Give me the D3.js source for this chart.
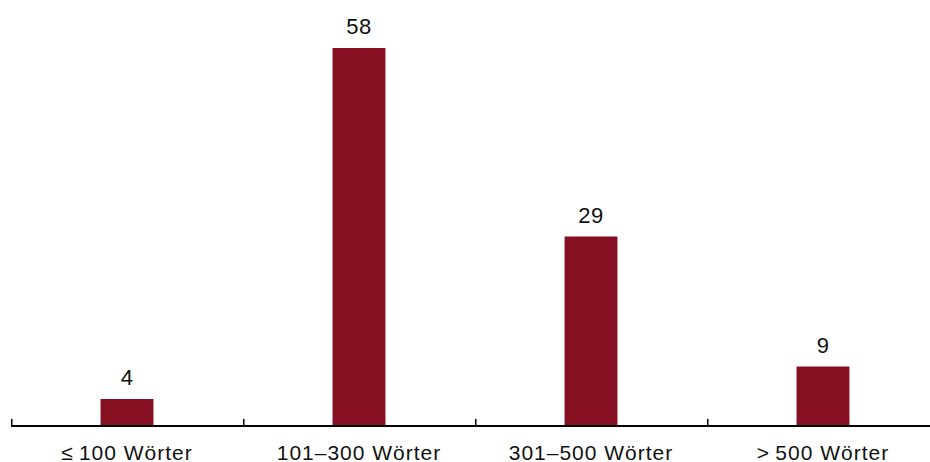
<!DOCTYPE html>
<html lang="de">
<head>
<meta charset="utf-8">
<script src="https://cdn.jsdelivr.net/npm/d3@7"></script>
<style>
  html, body { margin: 0; padding: 0; background: #fff; }
  svg { display: block; }
  text { font-family: "Liberation Sans", Arial, Helvetica, sans-serif; fill: #111; }
</style>
</head>
<body>
<svg id="chart" width="930" height="462"></svg>
<script>
// Anteil der Texte nach Länge (in Prozent)
const categories = ["\u2264\u2009100 Wörter", "101–300 Wörter", "301–500 Wörter", ">\u2009500 Wörter"];
const values = [4, 58, 29, 9];

const width = 930, height = 462;
const baseline = 425;
const barColor = "#860f22";

const svg = d3.select("#chart");

const x = d3.scaleBand()
  .domain(categories)
  .range([11, 939])
  .padding(0);

const y = d3.scaleLinear()
  .domain([0, d3.max(values)])
  .range([baseline, 48]);

const barW = x.bandwidth() * 0.228;

// Bars
svg.append("g")
  .selectAll("rect")
  .data(values)
  .join("rect")
  .attr("x", (d, i) => x(categories[i]) + x.bandwidth() / 2 - barW / 2)
  .attr("y", d => y(d))
  .attr("width", barW)
  .attr("height", d => baseline - y(d))
  .attr("fill", barColor);

// Value labels
svg.append("g")
  .selectAll("text")
  .data(values)
  .join("text")
  .attr("x", (d, i) => x(categories[i]) + x.bandwidth() / 2)
  .attr("y", d => y(d) - 14)
  .attr("text-anchor", "middle")
  .attr("font-size", 22)
  .attr("letter-spacing", 0.5)
  .text(d => d);

// Axis line and band separators
const axis = svg.append("g");
axis.append("line")
  .attr("x1", x.range()[0])
  .attr("x2", width)
  .attr("y1", baseline + 1)
  .attr("y2", baseline + 1)
  .attr("stroke", "#000")
  .attr("stroke-width", 2);

axis.selectAll("line.tick")
  .data(categories)
  .join("line")
  .attr("class", "tick")
  .attr("x1", d => x(d) + 0.75)
  .attr("x2", d => x(d) + 0.75)
  .attr("y1", baseline - 6)
  .attr("y2", baseline + 1)
  .attr("stroke", "#000")
  .attr("stroke-width", 1.5);

axis.selectAll("text.cat")
  .data(categories)
  .join("text")
  .attr("class", "cat")
  .attr("x", d => x(d) + x.bandwidth() / 2)
  .attr("y", 459.5)
  .attr("text-anchor", "middle")
  .attr("font-size", 21)
  .attr("letter-spacing", 1)
  .text(d => d);
</script>
</body>
</html>
